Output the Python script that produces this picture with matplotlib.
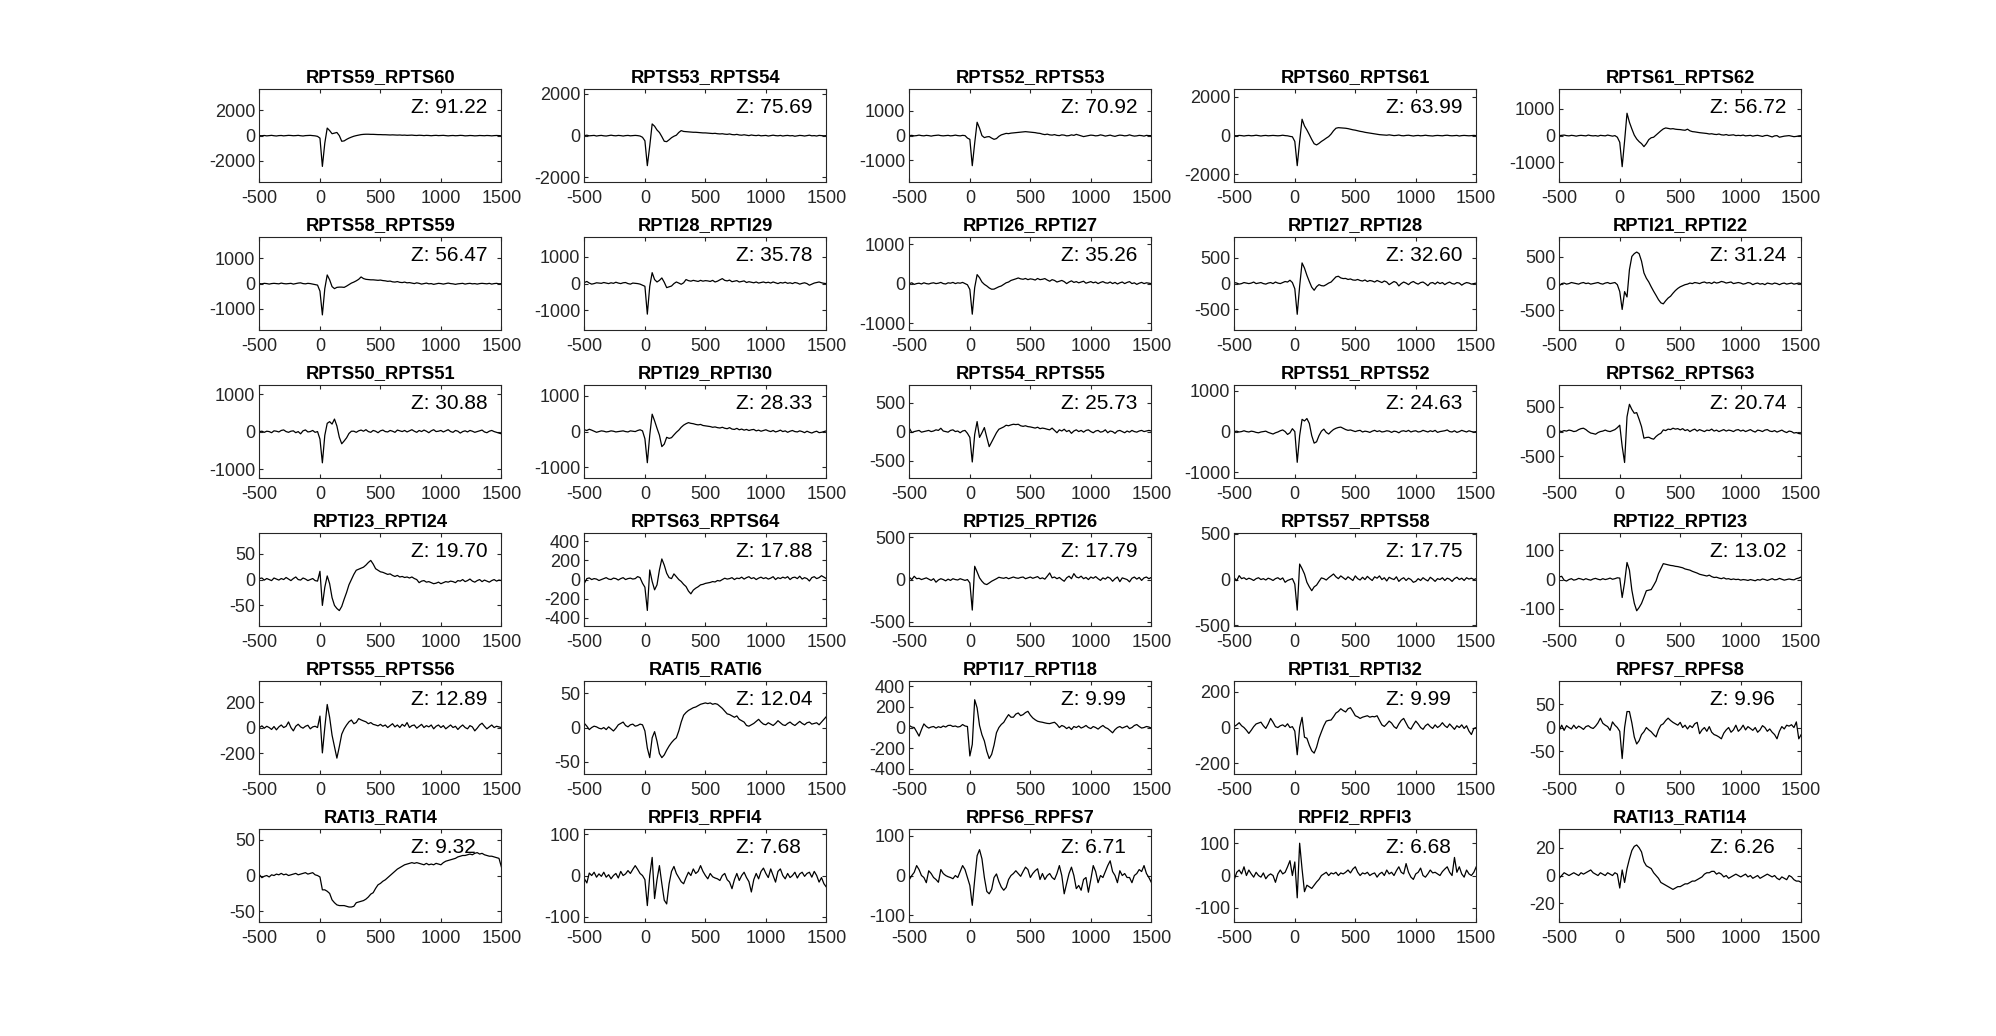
import numpy as np
import matplotlib
matplotlib.use("Agg")
import matplotlib.pyplot as plt

plt.rcParams['font.family'] = ['Liberation Sans', 'DejaVu Sans']
plt.rcParams['axes.unicode_minus'] = False

# sample times (ms), 20 ms step
t = np.arange(-500, 1501, 20)

titles = ["RPTS59_RPTS60", "RPTS53_RPTS54", "RPTS52_RPTS53", "RPTS60_RPTS61", "RPTS61_RPTS62",
          "RPTS58_RPTS59", "RPTI28_RPTI29", "RPTI26_RPTI27", "RPTI27_RPTI28", "RPTI21_RPTI22",
          "RPTS50_RPTS51", "RPTI29_RPTI30", "RPTS54_RPTS55", "RPTS51_RPTS52", "RPTS62_RPTS63",
          "RPTI23_RPTI24", "RPTS63_RPTS64", "RPTI25_RPTI26", "RPTS57_RPTS58", "RPTI22_RPTI23",
          "RPTS55_RPTS56", "RATI5_RATI6", "RPTI17_RPTI18", "RPTI31_RPTI32", "RPFS7_RPFS8",
          "RATI3_RATI4", "RPFI3_RPFI4", "RPFS6_RPFS7", "RPFI2_RPFI3", "RATI13_RATI14"]
zscores = [91.22, 75.69, 70.92, 63.99, 56.72,
           56.47, 35.78, 35.26, 32.60, 31.24,
           30.88, 28.33, 25.73, 24.63, 20.74,
           19.70, 17.88, 17.79, 17.75, 13.02,
           12.89, 12.04, 9.99, 9.99, 9.96,
           9.32, 7.68, 6.71, 6.68, 6.26]
# symmetric y limits and y tick step per panel
ylims = [3700, 2230, 1880, 2400, 1740,
         1850, 1730, 1180, 900, 870,
         1240, 1300, 800, 1140, 945,
         90, 485, 550, 510, 158,
         365, 68, 450, 260, 99,
         65, 113, 117, 144, 33.5]
ysteps = [2000, 2000, 1000, 2000, 1000,
          1000, 1000, 1000, 500, 500,
          1000, 1000, 500, 1000, 500,
          50, 200, 500, 500, 100,
          200, 50, 200, 200, 50,
          50, 100, 100, 100, 20]

# waveforms (one value per sample in t)
rpts59_rpts60 = [0, -10, 10, -20, 0, 20, -10, -30, 0, 10, -20, 0, 20, 10, -10, 0, 20, -10, -30, 0, 10, 20, 0, -20, -60,
                 -200, -2450, -600, 600, 400, 150, 200, 250, 0, -450, -420, -300, -200, -120, -50, 0, 40, 80, 100, 110, 110, 100, 100, 90, 80,
                 80, 70, 70, 60, 50, 60, 50, 40, 50, 30, 40, 20, 30, 40, 20, 10, 30, 20, 0, 20, 10, -10, 10, 20, 0,
                 10, 20, 0, -20, 0, 10, -10, 0, 20, 10, -20, -10, 10, 0, -20, -10, 10, 0, -10, 10, 0, -20, 0, 10, 0, -10]
rpts53_rpts54 = [0, 20, -10, 0, 10, -20, 0, 10, -10, -20, 0, 20, 0, -10, 10, 0, -20, 0, 10, -10, 0, 10, 0, -20, -80,
                 -250, -1440, -500, 560, 450, 270, 150, -50, -270, -290, -200, -100, -30, 20, 150, 240, 200, 190, 180, 170, 160, 160, 150, 140, 130,
                 130, 120, 110, 100, 110, 90, 80, 90, 70, 60, 80, 50, 40, 60, 30, 20, 40, 20, 0, 30, 10, 0, 20, -10, 0,
                 10, -20, 0, 20, 0, -10, 10, -20, 0, 10, -10, 0, -30, -10, 10, 0, -20, 0, 20, -10, 0, -20, 10, 0, -10, 0]
rpts52_rpts53 = [0, 10, -10, 0, 20, 0, -10, 10, 0, -20, 0, 10, 20, 0, -10, 0, 10, -10, 0, 20, 0, -10, 10, 0, -100,
                 -150, -1216, -300, 540, 300, 0, -80, -50, -40, -100, -150, -120, -30, 30, 60, 90, 80, 100, 110, 120, 130, 140, 150, 160, 150,
                 140, 130, 120, 100, 90, 60, 40, 60, 30, 20, 40, 10, 0, 30, 20, -10, 0, 30, 10, 50, 20, -10, -40, -20, 0,
                 20, 10, -10, 0, 30, 10, -20, 0, 20, -10, -30, 0, 20, 10, -10, 0, 30, 0, -20, -10, 10, 0, -20, 10, 0, 0]
rpts60_rpts61 = [0, -10, 10, 0, -20, 0, 10, -10, 0, 20, 0, -20, 0, 10, -10, 0, 10, 0, -10, 0, 20, 0, -10, -40, -60,
                 -300, -1550, -300, 845, 500, 290, 50, -200, -420, -480, -400, -300, -220, -130, -50, 80, 250, 380, 410, 400, 390, 380, 360, 330, 300,
                 280, 250, 220, 200, 170, 150, 130, 110, 90, 70, 50, 40, 30, 20, 40, 20, 0, 10, 30, 0, -10, 10, 20, 0, -20,
                 0, 10, -10, 0, 20, 0, -10, -20, 0, 10, 0, -10, 10, 20, 0, -10, 0, 10, -20, 0, 10, 0, -10, 0, 10, 0]
rpts61_rpts62 = [0, 10, 20, 0, -10, 10, 0, -20, 0, 10, 0, -10, 20, 0, -10, 0, -20, 10, 0, -10, 20, 0, -20, 0, -60,
                 -250, -1162, -200, 837, 500, 250, 20, -125, -225, -300, -412, -300, -150, -80, -60, 20, 100, 180, 250, 287, 270, 250, 260, 240, 230,
                 225, 210, 200, 240, 180, 150, 140, 125, 110, 100, 90, 80, 60, 70, 50, 40, 60, 30, 20, 40, 10, 20, 30, 0, 10,
                 0, 20, -10, 0, 10, -20, 0, 10, -10, -30, 0, 10, -20, -50, -10, 0, -60, -40, -20, -10, 0, -20, -40, -30, -10, 0]
rpts58_rpts59 = [0, -10, 10, 0, -20, 0, 10, 0, -10, 20, 0, -10, 0, 10, -20, 0, 20, 30, 0, -10, 10, 0, -20, -40, -60,
                 -300, -1245, -200, 344, 150, -120, -200, -150, -140, -140, -150, -100, -40, 20, 60, 110, 170, 264, 200, 170, 160, 150, 150, 140, 130,
                 140, 120, 110, 90, 100, 70, 60, 80, 50, 40, 60, 30, 40, 20, 0, 30, 10, -20, 0, 20, -10, 0, -30, -10, 10,
                 0, -20, 0, 20, 0, -10, -30, -10, 0, 10, -20, 0, 10, -10, 0, -20, 0, 10, 0, -10, 10, -20, 0, 10, -10, 0]
rpti28_rpti29 = [40, 80, 20, -20, 0, 30, 20, 10, 40, 20, 0, 30, 10, 50, 20, 0, 30, 40, 0, -20, 20, 10, 0, -20, -60,
                 -100, -1136, -100, 407, 150, 60, 120, 210, 50, -150, -120, -90, 0, 60, 20, -25, 30, 150, 110, 90, 120, 100, 80, 120, 90,
                 110, 100, 80, 120, 60, 90, 140, 185, 120, 100, 130, 70, 90, 110, 60, 80, 100, 40, 70, 50, 30, 60, 20, 40, 60,
                 30, 50, 20, 60, 30, 0, 40, 20, 50, 10, 30, 0, 40, 20, -20, 10, 30, 0, -60, -20, 20, 40, 60, 30, 10, 0]
rpti26_rpti27 = [0, 20, -20, 0, 10, -10, 20, 0, -10, 10, 20, 0, 10, 30, 0, -10, 20, 10, 30, 0, 20, 10, 30, 0, -30,
                 -150, -776, -100, 228, 150, 40, -20, -60, -110, -143, -140, -110, -80, -60, -20, 20, 40, 80, 100, 120, 143, 120, 110, 130, 100,
                 120, 110, 90, 130, 100, 110, 127, 90, 60, 100, 80, 40, 60, 80, 50, 0, 40, 70, 30, 50, 20, 40, 60, 10, 30,
                 50, 20, 40, 0, 30, 50, 20, 10, 40, 0, 30, -10, 20, 40, 0, 30, 50, 0, 20, -20, 10, 30, 0, 20, 10, 0]
rpti27_rpti28 = [20, 10, -10, 0, 20, 10, 0, 10, 30, 0, 10, 20, 0, -10, 10, 20, 0, 30, 10, 0, 20, 40, 30, 65, 20,
                 -100, -594, -50, 400, 300, 160, 40, -70, -129, -60, -20, -40, -45, -20, 10, 30, 80, 130, 142, 110, 97, 100, 80, 90, 70,
                 65, 80, 60, 50, 70, 40, 60, 50, 30, 60, 40, 20, 50, 30, -20, 10, 40, 20, -45, 0, 30, 10, -20, 20, 40,
                 10, -10, 20, 30, 0, -40, 10, 20, -10, 30, 0, 20, -20, 10, 30, 0, -10, 20, 10, -30, 0, 20, 10, -10, 0, 10]
rpti21_rpti22 = [-40, 0, 10, -10, 0, 20, 10, 0, -10, 10, 20, 0, 10, -10, 0, 10, 20, 0, -10, 10, 20, 0, 10, 20, -20,
                 -150, -484, -150, -250, 260, 508, 560, 590, 560, 420, 200, 100, 30, -60, -143, -220, -300, -360, -379, -320, -270, -236, -180, -130, -90,
                 -60, -40, -20, -10, 10, 0, 20, 12, 0, 20, 30, 10, 20, 0, 30, 10, 20, 40, 30, 10, 20, 30, 0, 10, 20,
                 10, -10, 0, 20, 10, -20, 0, 10, -10, 0, -20, 10, 0, -10, 10, 0, -20, 0, 10, -10, 0, 10, -10, 0, 10, 0]
rpts50_rpts51 = [0, 10, -20, 10, 0, -30, 20, 10, -10, 30, 44, 0, -20, 10, 20, -30, 0, -60, 20, 44, -10, 0, 30, -20, 0,
                 -200, -833, -100, 220, 264, 200, 333, 150, -150, -325, -250, -167, -50, 9, 10, -20, 20, 40, 10, 50, 0, -20, 30, 10, -30,
                 20, 40, 0, -10, 30, 10, -20, 40, 20, 0, 30, -10, 20, 50, 10, -20, 30, 0, 40, 10, -30, 20, 50, 0, 10,
                 30, -10, 20, 50, 0, -20, 30, 10, -40, 0, 20, -10, 30, 10, -20, 0, 20, 40, -10, -30, 10, 30, 0, -20, -40, -60]
rpti29_rpti30 = [50, 30, 65, 40, 10, -20, 0, 20, 10, -10, 0, 20, 10, -10, 0, 10, 20, 0, -10, 20, 10, 0, 30, 50, 20,
                 -200, -870, -100, 486, 300, 93, -100, -420, -350, -160, -190, -170, -93, -20, 40, 120, 180, 220, 250, 230, 220, 200, 187, 200, 170,
                 160, 150, 140, 120, 130, 110, 100, 120, 93, 80, 110, 70, 60, 90, 50, 70, 40, 60, 30, 50, 60, 20, 40, 10, 30,
                 50, 20, 0, 30, -10, 10, 40, 0, 20, -20, 10, 30, 0, -10, 20, 0, -30, 10, -20, -40, -10, 10, -30, -20, 0, 20]
rpts54_rpts55 = [57, -17, 0, 10, 20, -10, 0, 10, 20, 0, 10, 30, 20, 57, 10, 0, -10, 20, 30, 0, 10, -20, 10, 20, -30,
                 -100, -523, -50, 172, -100, -20, 69, -100, -259, -180, -100, -20, 40, 60, 80, 109, 100, 115, 126, 120, 126, 100, 90, 100, 85,
                 80, 70, 60, 75, 50, 60, 52, 40, 30, 60, 20, -20, 30, 10, 40, 0, 20, -30, 10, 30, 0, 20, -10, 20, 30,
                 0, -20, 10, 20, -10, 0, 30, -20, 10, 0, -30, 10, 20, 0, -20, 10, -10, 20, 0, -10, 10, 20, 0, 10, 20, 10]
rpts51_rpts52 = [0, 10, -10, 0, 20, 0, -10, 10, 0, -20, -30, -10, 0, 10, -20, -40, -60, -30, -10, 20, 40, 0, -70, -30, 70,
                 0, -753, -100, 300, 260, 320, 200, -100, -283, -250, -100, 10, 60, -20, -60, 0, 50, 80, 100, 110, 80, 50, 30, 40, 20,
                 0, 20, 30, -10, 10, 0, -20, 10, 30, 0, 20, -10, 0, 20, 10, -20, 10, 0, -30, 10, 20, 0, 30, -10, 10,
                 20, -10, 0, 30, 10, -10, 20, 0, 30, -20, 0, 10, 20, 40, 0, -10, 20, -20, 0, 30, 10, -10, 20, 0, -10, 0]
rpts62_rpts63 = [14, 0, 20, 10, 30, 20, 0, 10, 40, 60, 68, 40, 0, -30, -40, -54, -20, 0, 10, 30, 10, 0, 20, 40, 80,
                 130, -300, -628, 300, 554, 450, 372, 385, 250, 100, -135, -120, -115, -140, -155, -100, -60, -34, 34, 20, 50, 40, 68, 50, 60,
                 34, 60, 20, 40, 0, 30, 50, 10, 40, 20, 0, 30, 20, 50, 10, 30, 0, 20, 40, 10, 30, 20, 0, 30, 40,
                 10, 30, 0, 20, 40, 10, -10, 30, 20, 0, 30, 40, 10, 0, 20, -10, 10, 30, 0, -20, 10, 0, -30, -20, -40, -47]
rpti23_rpti24 = [2, 3, -1, 2, 0, -2, 3, 1, -1, 2, 0, 4, 1, -2, 2, 5, 0, -1, 3, 1, -2, 0, 2, -2, -3,
                 16, -50, -15, 7, -8, -35, -50, -56, -60, -52, -38, -25, -10, 0, 10, 18, 20, 22, 24, 28, 33, 37, 30, 21, 18,
                 15, 14, 12, 10, 11, 8, 6, 8, 5, 6, 4, 5, 3, 5, 2, 0, -6, -3, -2, -5, -4, -6, -8, -7, -5,
                 -8, -6, -4, -5, -3, -4, -6, -2, -3, 0, -4, -2, 1, -3, -5, -2, 0, -4, -1, -3, -5, -2, 0, -3, -1, -2]
rpts63_rpts64 = [-38, 10, 17, 0, 10, 5, -10, 0, 10, 20, 5, 0, 15, 10, -5, 10, 20, 0, 10, 15, 5, 10, 31, 20, -38,
                 -80, -322, 100, -20, -107, -55, 100, 215, 150, 66, 20, 10, 59, 30, 0, -20, -50, -73, -120, -149, -110, -90, -75, -55, -50,
                 -40, -35, -30, -21, -25, -10, -15, 0, 14, 5, 10, 20, 0, 15, 10, 25, 5, 20, 30, 10, 20, 0, 15, 25, 10,
                 20, 5, 15, 30, 0, 20, 10, 25, 15, 30, 0, 20, 25, 10, 35, 5, 20, 10, -15, 20, 30, 10, 20, 40, 25, 10]
rpti25_rpti26 = [27, 0, 39, 10, 15, 0, 10, 20, 5, -10, 10, -31, -5, 10, 0, -15, 5, -10, 10, 0, -5, 10, 0, -10, 0,
                 -40, -361, 157, 90, 20, -20, -50, -59, -40, -20, -5, 10, 27, 20, 15, 25, 10, 20, 30, 20, 15, 25, 30, 10, 20,
                 30, 15, 25, 35, 10, 20, 5, 40, 78, 20, 30, 10, 25, 0, -20, 20, 40, 10, 70, 30, 20, 40, 10, 25, 0,
                 30, 15, 35, 10, -10, 20, 5, 30, 15, -20, 10, 30, -25, 20, 10, 0, -27, 15, 30, 5, 25, -10, 20, 30, 10, 25]
rpts57_rpts58 = [18, -12, 43, 10, 20, 0, 15, 5, -10, 10, 20, 0, 10, -5, 15, 5, -10, 10, 20, 0, 18, -30, -10, 0, 10,
                 -50, -335, 170, 120, 61, -30, -80, -122, -80, -61, -20, 18, 10, -5, 20, 40, 61, 30, 10, 40, 20, 0, 30, 10, -10,
                 40, 10, -5, 25, 0, 35, 10, -10, 30, 15, 40, 0, 20, -15, 25, 10, 0, 30, -20, 5, 20, -10, 15, 0, -30,
                 -20, 10, -10, 20, 0, -15, 25, 5, -20, 10, 0, 20, -10, 15, 5, -20, 10, 25, 0, 15, -10, 20, 5, 15, 0, 10]
rpti22_rpti23 = [9, 11, -2, -5, 0, 3, -2, 0, 4, 2, -1, 3, 0, -2, 2, 4, 1, -1, 3, 0, 2, 5, 1, 3, 6,
                 5, -61, -10, 58, 32, -36, -80, -106, -95, -81, -60, -38, -36, -34, -20, -5, 20, 37, 54, 52, 50, 48, 47, 45, 44,
                 42, 40, 36, 34, 32, 28, 25, 22, 18, 16, 14, 12, 15, 10, 7, 8, 5, 3, 6, 2, 3, 0, 2, 0, 1,
                 -2, 0, -1, -3, 0, -2, -4, 0, -2, 2, 0, -3, 0, 3, -1, 0, 4, 1, -2, 0, 2, 0, -1, 3, 5, 9]
rpts55_rpts56 = [0, 13, -5, 10, 0, -15, 8, -18, 5, 20, 0, 10, 44, 0, -26, 10, 26, 5, -5, 10, 18, -10, 5, 10, 0,
                 90, -199, 0, 181, 80, -60, -150, -240, -150, -52, -10, 20, 45, 59, 30, 40, 70, 60, 52, 45, 30, 39, 25, 20, 13,
                 25, 10, 20, 0, 15, 30, 5, 20, 0, 25, 10, 39, 0, 15, 20, -5, 10, 25, 0, 15, 5, 20, -10, 10, 20,
                 0, 15, -10, 5, 20, 0, 10, -15, 5, 20, 0, -10, 15, 5, -26, -5, 20, 34, 10, -10, 5, 20, 0, 10, 5, 0]
rati5_rati6 = [6, 2, -3, 0, 2, 1, -1, -2, 0, -3, 1, -2, -5, -1, 4, 6, 8, 3, 1, 4, 5, 2, 3, 5, 4,
               -5, -30, -44, -15, -6, -20, -38, -44, -40, -33, -27, -22, -18, -15, -5, 8, 18, 22, 25, 27, 29, 30, 32, 34, 35,
               36, 35, 36, 34, 35, 34, 31, 28, 24, 20, 19, 17, 15, 17, 12, 10, 8, 3, 2, 4, 6, 9, 12, 8, 5,
               4, 7, 5, 3, 6, 10, 7, 4, 3, 6, 8, 5, 3, 6, 9, 6, 4, 7, 8, 5, 6, 7, 4, 8, 12, 16]
rpti17_rpti18 = [19, 5, 0, -40, -83, -20, 35, 10, -5, 5, 10, -5, 8, 0, 15, 5, 20, 22, 10, 15, 5, 10, 29, 15, 10,
                 -275, -163, 269, 190, 20, -70, -130, -230, -300, -260, -170, -50, 0, 30, 50, 90, 125, 100, 100, 130, 141, 115, 125, 145, 157,
                 120, 93, 75, 61, 55, 51, 45, 40, 38, 45, 51, 30, 0, 20, 10, -10, 5, -19, 10, 0, 15, -5, 5, 20, 0,
                 -10, 10, 0, -15, 5, 20, 0, -10, -30, -51, -20, 0, 10, -5, 5, 15, -10, 0, 20, 29, 10, -5, 0, 10, 5, -5]
rpti31_rpti32 = [6, 15, 27, 10, 0, -15, -33, -15, 5, 20, 25, 30, 10, -5, 20, 51, 30, 5, 0, 10, 15, 5, 21, 0, 5,
                 -20, -152, 0, 57, -54, -60, -99, -130, -143, -110, -60, -24, 10, 36, 40, 42, 60, 81, 90, 105, 95, 87, 105, 111, 90,
                 66, 60, 51, 58, 62, 66, 58, 62, 60, 66, 40, 15, 6, 20, 36, 25, 5, -5, 20, 40, 51, 25, 0, -9, 15,
                 36, 20, 0, -10, 10, 20, 5, -5, 15, 0, 10, 27, 10, 0, 20, 5, -10, 10, 0, 15, -5, 10, -20, -39, -5, 0]
rpfs7_rpfs8 = [-6, 5, -6, 4, 0, -3, 5, -2, 3, 0, -4, 2, 4, 0, -2, 3, 10, 20, 9, 5, 2, -6, 12, 5, 0,
               -8, -66, 0, 34, 34, 10, -20, -35, -28, -15, -9, 0, -5, -9, -15, -20, -5, 5, 8, 15, 20, 15, 11, 8, 5,
               11, 0, 5, -3, 4, 0, 8, 11, -13, -5, 0, -8, 2, -10, -15, -17, -20, -24, -12, -5, 0, -10, -5, 5, -8,
               -3, 5, -5, 2, -2, -6, 0, -10, -5, 4, 0, -8, -3, -10, -15, -24, -8, 2, -3, 5, 3, 6, 0, 12, -24, -15]
rati3_rati4 = [1, -3, -1, 0, -2, 1, 0, 2, 1, 3, 1, 2, 0, 1, 2, 3, 1, 2, 3, 4, 2, 3, 4, 1, 0,
               -2, -20, -20, -22, -25, -34, -38, -41, -42, -42, -42, -43, -44, -44, -43, -38, -37, -36, -35, -33, -30, -26, -24, -18, -13,
               -11, -8, -6, -3, 0, 3, 6, 9, 11, 13, 15, 16, 17, 18, 17, 18, 17, 16, 15, 17, 15, 16, 15, 17, 16,
               15, 18, 20, 21, 22, 23, 24, 26, 27, 28, 28, 29, 30, 29, 31, 32, 30, 31, 29, 28, 27, 27, 26, 25, 24, 12]
rpfi3_rpfi4 = [-8, -18, 6, 0, 8, -4, 4, -2, 8, -4, 2, -8, 0, 5, -6, 10, 0, 4, 12, 5, 15, 24, 15, 5, 0,
               -10, -73, 0, 44, -56, -10, 24, -20, -60, -69, -20, 10, 22, 5, -5, -15, -20, -5, 8, 0, 16, 5, 10, 24, 10,
               0, -8, 5, -3, -6, -8, -12, 0, 5, -10, -16, -32, -10, 5, -12, 0, 8, -5, -15, -40, -10, 5, -8, 10, 18,
               5, -5, 16, 0, -16, 10, 16, 0, -8, 5, -5, 0, 8, -6, 4, 8, -2, 5, 8, -4, 10, 0, -16, -5, -20, -28]
rpfs6_rpfs7 = [-10, 0, 8, 25, 15, 0, -5, -18, 12, 5, -5, -10, -17, 15, 5, 0, -3, -5, -8, 0, -5, 10, 25, 15, -5,
               -25, -75, -10, 50, 65, 42, -5, -40, -46, -35, -5, 4, -15, -29, -37, -30, -10, 0, 5, 12, 5, -2, 10, 21, 15,
               -5, 5, 12, 17, -10, 5, -10, 0, 5, -5, -10, 5, 25, 0, -46, -20, 5, 21, 0, -33, -25, -37, -10, -5, -42,
               -10, 25, 10, -18, 0, -5, 10, 25, 37, 10, 0, -18, 12, 0, 5, -5, -5, -18, 0, 5, 15, 10, 25, 5, -5, -17]
rpfi2_rpfi3 = [-12, 10, 17, 5, 27, 0, 17, 5, -5, 10, 0, -5, 8, -10, 0, 5, 0, -21, 5, 17, 5, 10, 27, 46, 0,
               42, -69, 100, 20, -50, -30, -35, -40, -30, -20, -12, 0, 5, 10, 0, 8, 5, 10, 0, 8, 5, 10, 17, 8, 20,
               27, 10, 0, 8, 5, 10, 0, 5, 8, -5, 5, 10, 0, 17, 5, 10, 0, 15, 27, 10, 5, 37, 10, -5, -12,
               5, 10, 23, 0, -5, 5, 17, 8, 10, 5, 0, 12, 20, 27, 10, 0, 56, 10, 27, 5, -5, 17, 5, 0, 10, 27]
rati13_rati14 = [-2, 0, 2, 1, 0, 1, 2, 1, 0, 2, 1, 2, 3, 4, 2, 1, 0, 2, 1, 0, 2, 1, 0, 2, 1,
                 -9, 4, -5, 5, 12, 18, 21, 22, 20, 17, 10, 7, 6, 5, 2, 0, -2, -5, -6, -7, -8, -9, -10, -9, -8,
                 -8, -7, -6, -6, -5, -4, -4, -3, -2, -1, 1, 2, 2, 3, 3, 1, 2, 1, -1, 0, -2, -1, 0, 1, 0,
                 -1, 0, 1, -1, 0, -2, -1, 0, -2, -1, 0, 1, 0, -1, 0, -2, -3, -1, -2, -3, 0, -1, -3, -4, -4, -5]

series = [rpts59_rpts60, rpts53_rpts54, rpts52_rpts53, rpts60_rpts61, rpts61_rpts62,
          rpts58_rpts59, rpti28_rpti29, rpti26_rpti27, rpti27_rpti28, rpti21_rpti22,
          rpts50_rpts51, rpti29_rpti30, rpts54_rpts55, rpts51_rpts52, rpts62_rpts63,
          rpti23_rpti24, rpts63_rpts64, rpti25_rpti26, rpts57_rpts58, rpti22_rpti23,
          rpts55_rpts56, rati5_rati6, rpti17_rpti18, rpti31_rpti32, rpfs7_rpfs8,
          rati3_rati4, rpfi3_rpfi4, rpfs6_rpfs7, rpfi2_rpfi3, rati13_rati14]

ink = '#262626'
fig = plt.figure(figsize=(19.96, 10.36), dpi=100)

for i, y in enumerate(series):
    r, c = divmod(i, 5)
    ax = fig.add_axes([0.13 + c * 0.1628, 0.8242 - r * 0.14284, 0.1212, 0.0898])
    ax.plot(t, y, color='k', lw=0.9)
    ax.set_xlim(-500, 1500)
    ax.set_ylim(-ylims[i], ylims[i])
    ax.set_xticks([-500, 0, 500, 1000, 1500])
    n = int(ylims[i] // ysteps[i])
    ax.set_yticks(np.arange(-n, n + 1) * ysteps[i])
    ax.tick_params(direction='in', top=True, right=True, length=3, width=0.8,
                   colors=ink, labelsize=13)
    ax.tick_params(axis='x', pad=5.5)
    ax.tick_params(axis='y', pad=3)
    for s in ax.spines.values():
        s.set_color(ink)
        s.set_linewidth(0.8)
    ax.set_title(titles[i], fontsize=13.2, fontweight='bold', pad=5)
    ax.text(0.625, 0.742, f"Z: {zscores[i]:.2f}", transform=ax.transAxes,
            fontsize=15, va='baseline')

fig.savefig("out.png", dpi=100)
